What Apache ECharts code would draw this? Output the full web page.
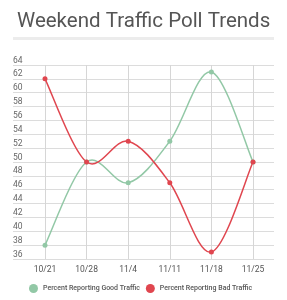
<!DOCTYPE html>
<html>
<head>
<meta charset="utf-8">
<script src="https://cdn.jsdelivr.net/npm/echarts@6/dist/echarts.min.js"></script>
<style>
html,body{margin:0;padding:0;background:#fff;}
#c{width:287px;height:300px;}
</style>
</head>
<body>
<div id="c"></div>
<script>
var categories = ['10/21', '10/28', '11/4', '11/11', '11/18', '11/25'];
var goodTraffic = [38, 50, 47, 53, 63, 50];
var badTraffic = [62, 50, 53, 47, 37, 50];
var yMin = 36, yMax = 64, yStep = 2;

var GOOD = 'Percent Reporting Good Traffic';
var BAD = 'Percent Reporting Bad Traffic';
var green = '#92c8a6', red = '#e0464f';

var chart = echarts.init(document.getElementById('c'), null, {renderer: 'canvas'});
var font = 'Roboto, sans-serif';

// Cardinal (Catmull-Rom) spline through the points, positioned by the axes
function splineSeries(name, values, color) {
  return {
    type: 'custom', name: name, xAxisIndex: 0, yAxisIndex: 0, z: 2,
    data: values.map(function (v, i) { return [i, v]; }),
    encode: {x: 0, y: 1},
    itemStyle: {color: color},
    silent: true,
    renderItem: function (params, api) {
      if (params.dataIndex !== 0) return null;
      var p = values.map(function (v, i) { return api.coord([i, v]); });
      var n = p.length, kids = [];
      for (var i = 0; i < n - 1; i++) {
        var p0 = p[Math.max(i - 1, 0)], p1 = p[i], p2 = p[i + 1], p3 = p[Math.min(i + 2, n - 1)];
        kids.push({
          type: 'bezierCurve',
          shape: {
            x1: p1[0], y1: p1[1], x2: p2[0], y2: p2[1],
            cpx1: p1[0] + (p2[0] - p0[0]) / 6, cpy1: p1[1] + (p2[1] - p0[1]) / 6,
            cpx2: p2[0] - (p3[0] - p1[0]) / 6, cpy2: p2[1] - (p3[1] - p1[1]) / 6
          },
          style: {stroke: color, lineWidth: 1.5, fill: null}
        });
      }
      return {type: 'group', children: kids};
    }
  };
}

chart.setOption({
  animation: false,
  backgroundColor: '#fff',
  title: {
    text: 'Weekend Traffic Poll Trends',
    left: 12, top: 6,
    textStyle: {fontFamily: font, fontSize: 20.5, fontWeight: 'normal', color: '#555'}
  },
  graphic: [{
    type: 'rect', shape: {x: 13, y: 37, width: 261, height: 3},
    style: {fill: '#ececec'}, silent: true
  }],
  legend: {
    left: 29, top: 284, width: 258, padding: 0,
    itemWidth: 9, itemHeight: 9, itemGap: 6,
    icon: 'circle',
    textStyle: {fontFamily: font, fontSize: 7, fontWeight: 500, color: '#555'},
    data: [GOOD, BAD]
  },
  grid: [
    {left: 45, right: 34, top: 65, bottom: 41},
    {left: 13, right: 13, top: 65, bottom: 41}
  ],
  xAxis: [
    {
      type: 'category', gridIndex: 0, data: categories, boundaryGap: false,
      axisLine: {show: false}, axisTick: {show: false},
      axisLabel: {fontFamily: font, fontSize: 8.5, color: '#555', margin: 6},
      splitLine: {show: true, lineStyle: {color: '#d6d6d6', width: 1}}
    },
    {type: 'value', gridIndex: 1, show: false}
  ],
  yAxis: [
    {type: 'value', gridIndex: 0, min: yMin, max: yMax, interval: yStep, show: false, splitLine: {show: false}},
    {
      type: 'value', gridIndex: 1, min: yMin, max: yMax, interval: yStep,
      axisLine: {show: false}, axisTick: {show: false},
      axisLabel: {inside: true, verticalAlign: 'bottom', margin: 0, fontFamily: font, fontSize: 8.5, color: '#666'},
      splitLine: {show: true, lineStyle: {color: '#dcdcdc', width: 1}}
    }
  ],
  series: [
    {
      name: GOOD, type: 'line', xAxisIndex: 0, yAxisIndex: 0,
      data: goodTraffic, symbol: 'circle', symbolSize: 5,
      itemStyle: {color: green}, lineStyle: {color: green, width: 0, opacity: 0}, z: 3
    },
    {
      name: BAD, type: 'line', xAxisIndex: 0, yAxisIndex: 0,
      data: badTraffic, symbol: 'circle', symbolSize: 5,
      itemStyle: {color: red}, lineStyle: {color: red, width: 0, opacity: 0}, z: 3
    },
    splineSeries(GOOD, goodTraffic, green),
    splineSeries(BAD, badTraffic, red)
  ]
});
</script>
</body>
</html>
